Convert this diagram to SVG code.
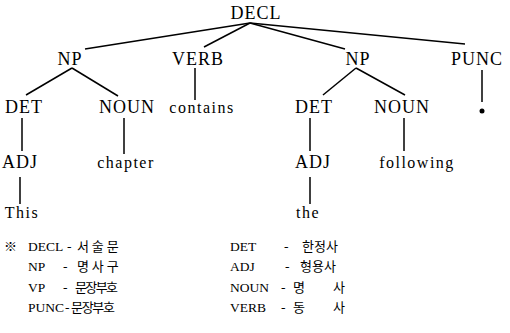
<svg xmlns="http://www.w3.org/2000/svg" width="510" height="333" viewBox="0 0 510 333">
<style>
text{fill:#000}
.t{font-family:'Liberation Serif',serif;font-size:18px;text-anchor:middle;letter-spacing:1px}
.w{font-family:'Liberation Serif',serif;font-size:16px;text-anchor:middle;letter-spacing:1.5px}
.l{font-family:'Liberation Serif',serif;font-size:13.5px}
.k{font-family:'Noto Sans CJK KR',sans-serif;font-size:13px}
.e line{stroke:#000;stroke-width:1.5}
</style>
<rect width="510" height="333" fill="#fff"/>
<g class="e" id="connectors">
<line x1="250" y1="23" x2="85" y2="49"/>
<line x1="250" y1="23" x2="204" y2="47"/>
<line x1="250" y1="23" x2="345" y2="49"/>
<line x1="250" y1="23" x2="465" y2="44"/>
<line x1="72" y1="68" x2="26" y2="95"/>
<line x1="72" y1="68" x2="118" y2="96"/>
<line x1="195" y1="68" x2="195" y2="100"/>
<line x1="356" y1="68" x2="323" y2="95"/>
<line x1="356" y1="68" x2="405" y2="95"/>
<line x1="482" y1="70" x2="482" y2="102"/>
<line x1="22" y1="118" x2="22" y2="151"/>
<line x1="124" y1="118" x2="124" y2="154"/>
<line x1="310" y1="118" x2="310" y2="151"/>
<line x1="404" y1="118" x2="404" y2="151"/>
<line x1="20" y1="177" x2="20" y2="204"/>
<line x1="310" y1="177" x2="310" y2="204"/>
</g>
<g id="decl"><text class="t" x="256" y="19">DECL</text></g>
<g id="np1"><text class="t" x="70" y="65">NP</text></g>
<g id="verb"><text class="t" x="198" y="65">VERB</text></g>
<g id="np2"><text class="t" x="358" y="65">NP</text></g>
<g id="punc"><text class="t" x="477" y="65">PUNC</text></g>
<g id="det1"><text class="t" x="24" y="113">DET</text></g>
<g id="noun1"><text class="t" x="127" y="113">NOUN</text></g>
<g id="contains"><text class="w" x="202" y="113">contains</text></g>
<g id="det2"><text class="t" x="314" y="113">DET</text></g>
<g id="noun2"><text class="t" x="402" y="113">NOUN</text></g>
<g id="dot"><circle cx="482" cy="111" r="2.5" fill="#000"/></g>
<g id="adj1"><text class="t" x="20" y="168">ADJ</text></g>
<g id="chapter"><text class="w" x="126" y="168">chapter</text></g>
<g id="adj2"><text class="t" x="313" y="168">ADJ</text></g>
<g id="following"><text class="w" x="417" y="168">following</text></g>
<g id="this"><text class="w" x="22" y="218">This</text></g>
<g id="the"><text class="w" x="308" y="218">the</text></g>
<g id="legend">
<text class="k" x="4" y="251" font-size="15">※</text>
<text class="l" x="28" y="251">DECL</text><text class="l" x="67" y="251">-</text><text class="k" x="77" y="251">서 술 문</text>
<text class="l" x="28" y="271">NP</text><text class="l" x="63" y="271">-</text><text class="k" x="77" y="271">명 사 구</text>
<text class="l" x="28" y="292">VP</text><text class="l" x="63" y="292">-</text><text class="k" x="75" y="292" textLength="43" lengthAdjust="spacing">문장부호</text>
<text class="l" x="28" y="312">PUNC</text><text class="l" x="65" y="312">-</text><text class="k" x="71" y="312" textLength="44" lengthAdjust="spacing">문장부호</text>
<text class="l" x="230" y="251">DET</text><text class="l" x="284" y="251">-</text><text class="k" x="302" y="251">한정사</text>
<text class="l" x="230" y="271">ADJ</text><text class="l" x="285" y="271">-</text><text class="k" x="300" y="271">형용사</text>
<text class="l" x="230" y="292">NOUN</text><text class="l" x="281" y="292">-</text><text class="k" x="293" y="292">명</text><text class="k" x="333" y="292">사</text>
<text class="l" x="230" y="312">VERB</text><text class="l" x="281" y="312">-</text><text class="k" x="293" y="312">동</text><text class="k" x="333" y="312">사</text>
</g>
</svg>
